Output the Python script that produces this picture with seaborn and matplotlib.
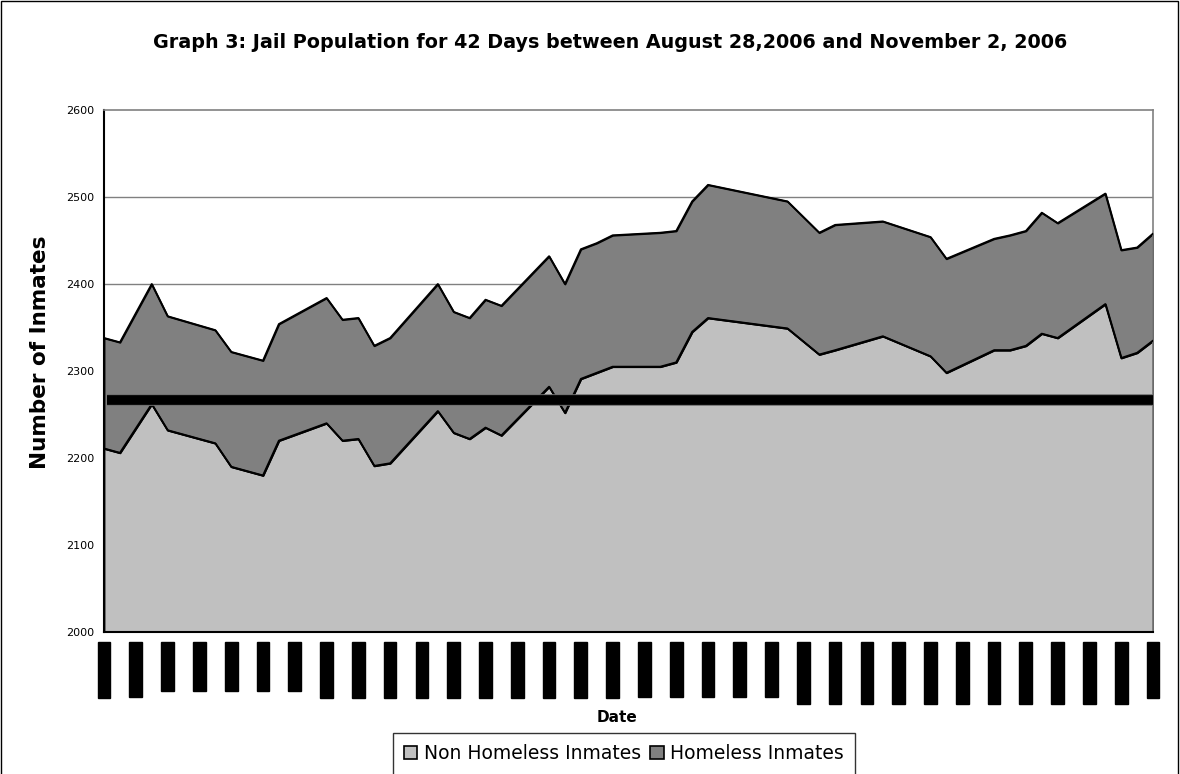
import matplotlib
matplotlib.use("Agg")
import matplotlib.pyplot as plt
from matplotlib.patches import Patch, Rectangle
import numpy as np
import pandas as pd
import seaborn as sns

# ── Data ──────────────────────────────────────────────────────────────────────

obs_dates = [
    "2006-08-28", "2006-08-29", "2006-08-31", "2006-09-01", "2006-09-04",
    "2006-09-05", "2006-09-07", "2006-09-08", "2006-09-11", "2006-09-12",
    "2006-09-13", "2006-09-14", "2006-09-15", "2006-09-18", "2006-09-19",
    "2006-09-20", "2006-09-21", "2006-09-22", "2006-09-25", "2006-09-26",
    "2006-09-27", "2006-09-28", "2006-09-29", "2006-10-02", "2006-10-03",
    "2006-10-04", "2006-10-05", "2006-10-10", "2006-10-12", "2006-10-13",
    "2006-10-16", "2006-10-19", "2006-10-20", "2006-10-23", "2006-10-24",
    "2006-10-25", "2006-10-26", "2006-10-27", "2006-10-30", "2006-10-31",
    "2006-11-01", "2006-11-02",
]

non_homeless = [
    2211, 2206, 2262, 2232, 2217, 2190, 2180, 2220, 2240, 2220,
    2222, 2191, 2194, 2254, 2229, 2222, 2235, 2226, 2282, 2252,
    2291, 2298, 2305, 2305, 2310, 2345, 2361, 2349, 2319, 2324,
    2340, 2317, 2298, 2324, 2324, 2329, 2343, 2338, 2377, 2315,
    2321, 2335,
]

homeless = [
    127, 127, 138, 131, 130, 132, 132, 134, 144, 139,
    139, 138, 144, 146, 139, 139, 147, 149, 150, 148,
    149, 149, 151, 154, 151, 150, 153, 146, 140, 144,
    132, 137, 131, 128, 132, 132, 139, 132, 127, 124,
    121, 123,
]

series_labels = ["Non Homeless Inmates", "Homeless Inmates"]
series_colors = ["#C0C0C0", "#808080"]
reference_level = 2267
y_ticks = [2000, 2100, 2200, 2300, 2400, 2500, 2600]

# ── Build frame ───────────────────────────────────────────────────────────────

df = pd.DataFrame({
    "date": pd.to_datetime(obs_dates),
    "non_homeless": non_homeless,
    "homeless": homeless,
})
df["total"] = df["non_homeless"] + df["homeless"]

sns.set_theme(style="white")
plt.rcParams["font.family"] = ["DejaVu Sans"]
plt.rcParams["text.color"] = "black"
plt.rcParams["axes.labelcolor"] = "black"
plt.rcParams["xtick.color"] = "black"
plt.rcParams["ytick.color"] = "black"

fig = plt.figure(figsize=(11.8, 7.74), dpi=100)
ax = fig.add_axes([104 / 1180, 1 - 632 / 774, 1049 / 1180, 522 / 774])

x_start, x_end = df["date"].iloc[0], df["date"].iloc[-1]

# grid lines behind everything
for y in y_ticks[1:-1]:
    ax.axhline(y, color="#808080", lw=1.0, zorder=0)

# stacked areas
ax.fill_between(df["date"], y_ticks[0], df["non_homeless"],
                facecolor=series_colors[0], edgecolor="black", lw=1.3, zorder=2)
ax.fill_between(df["date"], df["non_homeless"], df["total"],
                facecolor=series_colors[1], edgecolor="black", lw=1.3, zorder=2)

long = pd.concat([
    pd.DataFrame({"date": df["date"], "value": df["non_homeless"], "s": "lower"}),
    pd.DataFrame({"date": df["date"], "value": df["total"], "s": "upper"}),
])
sns.lineplot(data=long, x="date", y="value", hue="s", palette=["black", "black"],
             lw=1.3, legend=False, ax=ax, zorder=3)

# thick reference bar
ax.axhline(reference_level, xmin=0.003, xmax=1, color="#707070", lw=8.4, zorder=4,
           solid_capstyle="butt")
ax.axhline(reference_level, xmin=0.003, xmax=1, color="black", lw=7.0, zorder=5,
           solid_capstyle="butt")

ax.set_xlim(x_start, x_end)
ax.set_ylim(y_ticks[0], y_ticks[-1])
ax.set_yticks(y_ticks)
ax.set_yticklabels([str(v) for v in y_ticks])

tick_dates = pd.date_range(x_start, x_end, freq="2D")
ax.set_xticks(tick_dates)
ax.set_xticklabels([f"{d.month}/{d.day}/{d.year}" for d in tick_dates],
                   rotation=90, fontsize=7.5, color="black")
for lab in ax.get_xticklabels():
    lab.set_bbox(dict(facecolor="black", edgecolor="black", pad=1.0))

ax.tick_params(axis="y", labelsize=8, length=4, width=1, color="black",
               direction="out", pad=3, labelcolor="black")
ax.tick_params(axis="x", length=4, width=1, color="black", direction="out", pad=4)

ax.set_xlabel("")
ax.set_ylabel("")
for side in ["left", "bottom"]:
    ax.spines[side].set_color("black")
    ax.spines[side].set_linewidth(1.5)
for side in ["top", "right"]:
    ax.spines[side].set_color("#808080")
    ax.spines[side].set_linewidth(1.2)
ax.set_facecolor("white")

# texts
fig.text(0.517, 1 - 42 / 774,
         "Graph 3: Jail Population for 42 Days between August 28,2006 and November 2, 2006",
         ha="center", va="center", fontsize=13.8, fontweight="bold", color="black")
fig.text(40 / 1180, 1 - 352 / 774, "Number of Inmates", rotation=90,
         ha="center", va="center", fontsize=15.5, fontweight="bold", color="black")
fig.text(617 / 1180, 1 - 718 / 774, "Date", ha="center", va="center",
         fontsize=11, fontweight="bold", color="black")

handles = [Patch(facecolor=c, edgecolor="black", lw=1.2) for c in series_colors]
leg = fig.legend(handles, series_labels, loc="upper center", ncol=2,
                 bbox_to_anchor=(624 / 1180, 1 - 733 / 774), frameon=True,
                 fancybox=False, fontsize=13.5, handlelength=0.7,
                 handleheight=0.7, handletextpad=0.35, columnspacing=0.5,
                 borderpad=0.6, borderaxespad=0, labelcolor="black")
leg.get_frame().set_edgecolor("black")
leg.get_frame().set_linewidth(1.0)

# chart-area border
fig.patches.append(Rectangle((0.0012, -0.1), 0.9972, 1.0985, transform=fig.transFigure,
                             fill=False, edgecolor="black", lw=1.0))

fig.savefig("out.png", dpi=100)
